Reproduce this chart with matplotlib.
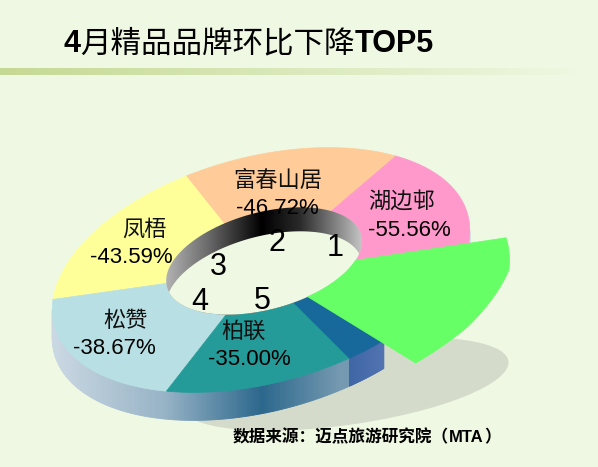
import numpy as np
import matplotlib
matplotlib.use('Agg')
import matplotlib.pyplot as plt
from matplotlib.patches import Polygon, Ellipse
from matplotlib.collections import PolyCollection
from matplotlib.colors import to_rgb

# ---------------- data ----------------
brands = ['湖边邨', '富春山居', '凤梧', '松赞', '柏联']
changes = [-55.56, -46.72, -43.59, -38.67, -35.00]
ranks = ['1', '2', '3', '4', '5']
# angular share of each ring piece (degrees)
slice_degrees = [59, 61, 64, 68, 52, 11, 45]
slice_colors = ['#ff99cc', '#ffcc99', '#ffff99', '#b8e0e4', '#249b98', '#17699c', '#66ff66']
title_parts = ['4', '月精品品牌环比下降', 'TOP5']
source_parts = ['数据来源：迈点旅游研究院（', 'MTA', '）']

# ---------------- style / layout ----------------
BG = '#eef8e2'
W, H = 598, 467
CJK = 'Noto Sans CJK SC'
LAT = 'Liberation Sans'

fig = plt.figure(figsize=(W / 100, H / 100), dpi=100, facecolor=BG)
ax = fig.add_axes([0, 0, 1, 1])
ax.set_facecolor(BG)
ax.axis('off')

CX, CY = 261, 270          # ring centre (px)
A, B = 214, 113            # outer semi axes
TH = np.deg2rad(15)        # tilt
DEPTH = 28                 # side thickness
DIN = 24                   # visible inner wall
HC = (0.025, 0.07)         # hole centre (unit space)
HR = (0.47, 0.43)          # hole radii (unit space)
START = -17


def to_screen(px, py):
    X = A * np.asarray(px)
    Y = B * np.asarray(py)
    Xr = X * np.cos(TH) - Y * np.sin(TH)
    Yr = X * np.sin(TH) + Y * np.cos(TH)
    return CX + Xr, CY - Yr


def outer_pts(phis, r=1.0):
    return to_screen(r * np.cos(phis), r * np.sin(phis))


def hole_t(phi):
    c, s = np.cos(phi), np.sin(phi)
    hx, hy = HC
    rx, ry = HR
    qa = (c / rx) ** 2 + (s / ry) ** 2
    qb = -2 * (c * hx / rx ** 2 + s * hy / ry ** 2)
    qc = (hx / rx) ** 2 + (hy / ry) ** 2 - 1
    return (-qb + np.sqrt(qb ** 2 - 4 * qa * qc)) / (2 * qa)


def inner_pts(phis):
    t = hole_t(phis)
    return to_screen(t * np.cos(phis), t * np.sin(phis))


def grad(x, stops):
    xs = [s[0] for s in stops]
    cols = np.array([to_rgb(s[1]) for s in stops])
    return tuple(np.interp(x, xs, cols[:, k]) for k in range(3))


bounds = START + np.concatenate([[0], np.cumsum(slice_degrees)])

# ---- title bar ----
bar = np.zeros((1, 400, 4))
bar[..., :3] = to_rgb('#c6d993')
bar[..., 3] = np.linspace(1, 0, 400)
ax.imshow(bar, extent=(0, 580, 75, 68.5), aspect='auto', zorder=1, interpolation='bilinear')

# ---- shadow ----
ax.add_patch(Ellipse((345, 384), 330, 82, angle=-8, facecolor='#d5dbcb', edgecolor='none', zorder=1))

# ---- outer side faces ----
side_stops = {
    0: [(440, '#d0dce6'), (480, '#c4d4df')],
    5: [(340, '#3a62a2'), (395, '#5878b4')],
}
default_stops = [(45, '#cfdbe5'), (165, '#97b3c6'), (262, '#2b678c'), (340, '#7499b0')]
quads, qcols = [], []
for i in range(6):
    ph = np.deg2rad(np.linspace(bounds[i], bounds[i + 1], 80))
    xs, ys = outer_pts(ph)
    for k in range(len(ph) - 1):
        pm = 0.5 * (ph[k] + ph[k + 1])
        dX = -A * np.sin(pm) * np.cos(TH) - B * np.cos(pm) * np.sin(TH)
        if dX <= 0:
            continue
        q = [(xs[k], ys[k]), (xs[k + 1], ys[k + 1]),
             (xs[k + 1], ys[k + 1] + DEPTH), (xs[k], ys[k] + DEPTH)]
        quads.append(q)
        qcols.append(grad(0.5 * (xs[k] + xs[k + 1]), side_stops.get(i, default_stops)))
ax.add_collection(PolyCollection(quads, facecolors=qcols, edgecolors=qcols,
                                 linewidths=0.6, zorder=2))

# ---- top faces ----
for i in range(6):
    ph = np.deg2rad(np.linspace(bounds[i], bounds[i + 1], 120))
    ox, oy = outer_pts(ph)
    ix, iy = inner_pts(ph[::-1])
    pts = np.column_stack([np.concatenate([ox, ix]), np.concatenate([oy, iy])])
    ax.add_patch(Polygon(pts, closed=True, facecolor=slice_colors[i],
                         edgecolor=slice_colors[i], linewidth=0.5, zorder=3))

# ---- hole ----
hp = np.linspace(0, 2 * np.pi, 300)
hx, hy = to_screen(HC[0] + HR[0] * np.cos(hp), HC[1] + HR[1] * np.sin(hp))
hole_patch = Polygon(np.column_stack([hx, hy]), closed=True, facecolor='none',
                     edgecolor='none', transform=ax.transData)
ax.add_patch(hole_patch)
wall_stops = [(160, '#bdbdbd'), (205, '#707070'), (262, '#000000'),
              (300, '#2a2a2a'), (340, '#8c8c8c'), (366, '#cfcfcf')]
gx = np.linspace(hx.min(), hx.max(), 300)
wall = np.array([[grad(x, wall_stops) for x in gx]])
im = ax.imshow(wall, extent=(hx.min(), hx.max(), hy.max() + 2, hy.min() - 2),
               aspect='auto', zorder=4, interpolation='bilinear')
im.set_clip_path(hole_patch)
floor = Polygon(np.column_stack([hx, hy + DIN]), closed=True, facecolor=BG,
                edgecolor='none', zorder=5)
ax.add_patch(floor)
floor.set_clip_path(hole_patch)

# ---- exploded slice ----
g0, g1 = bounds[6], bounds[7]
ph_in = np.deg2rad(np.linspace(g1, g0, 80))
ix, iy = inner_pts(ph_in)
out_deg = np.linspace(g0 - 1, g1 + 3, 120)
out_r = np.interp(out_deg, [g0 - 1, g0 + 14, g0 + 35, g1 + 3], [1.29, 1.29, 1.255, 1.18])
ox, oy = outer_pts(np.deg2rad(out_deg), out_r)
gpts = np.column_stack([np.concatenate([ix, ox]), np.concatenate([iy, oy])])
ax.add_patch(Polygon(gpts, closed=True, facecolor=slice_colors[6],
                     edgecolor=slice_colors[6], linewidth=0.5, zorder=6))

# ---- slice labels ----
label_nudge = [(0, 3.5, -4, 4), (-8.5, 14, 0, 0), (0, 1.5, 6.5, -6.5),
               (-6, -3, 5.5, -5.5), (-12, -10.5, -3, 3)]
for i, (name, val) in enumerate(zip(brands, changes)):
    mid = np.deg2rad(0.5 * (bounds[i] + bounds[i + 1]))
    lx, ly = outer_pts(mid, 0.74)
    dx, dy, dn, dv = label_nudge[i]
    ax.text(lx + dx + dn, ly + dy - 14, name, family=CJK, fontsize=16,
            ha='center', va='center', color='#111111', zorder=8)
    ax.text(lx + dx + dv, ly + dy + 14, f'{val:.2f}%', family=LAT, fontsize=16,
            ha='center', va='center', color='black', zorder=8)

rank_pos = [(335, 248), (277, 243), (218, 267), (200, 302), (262, 301)]
for r, (x, y) in zip(ranks, rank_pos):
    ax.text(x, y, r, family=LAT, fontsize=22, ha='center', va='center',
            color='black', zorder=8)

ax.set_xlim(0, W)
ax.set_ylim(H, 0)

# ---- title & source (pieces placed side by side) ----
renderer = fig.canvas.get_renderer()
x = 63
for s in title_parts:
    is_cjk = any(ord(ch) > 0x2e80 for ch in s)
    t = ax.text(x, 52, s, family=CJK if is_cjk else LAT, fontsize=22,
                weight='normal' if is_cjk else 'bold', va='baseline', ha='left',
                color='black', zorder=8)
    x += t.get_window_extent(renderer).width

x = 233
for s in source_parts:
    is_cjk = any(ord(ch) > 0x2e80 for ch in s)
    t = ax.text(x, 442, s, family=CJK if is_cjk else LAT, fontsize=12,
                weight='bold', va='baseline', ha='left', color='black', zorder=8)
    x += t.get_window_extent(renderer).width

fig.savefig('out.png', dpi=100, facecolor=BG)
